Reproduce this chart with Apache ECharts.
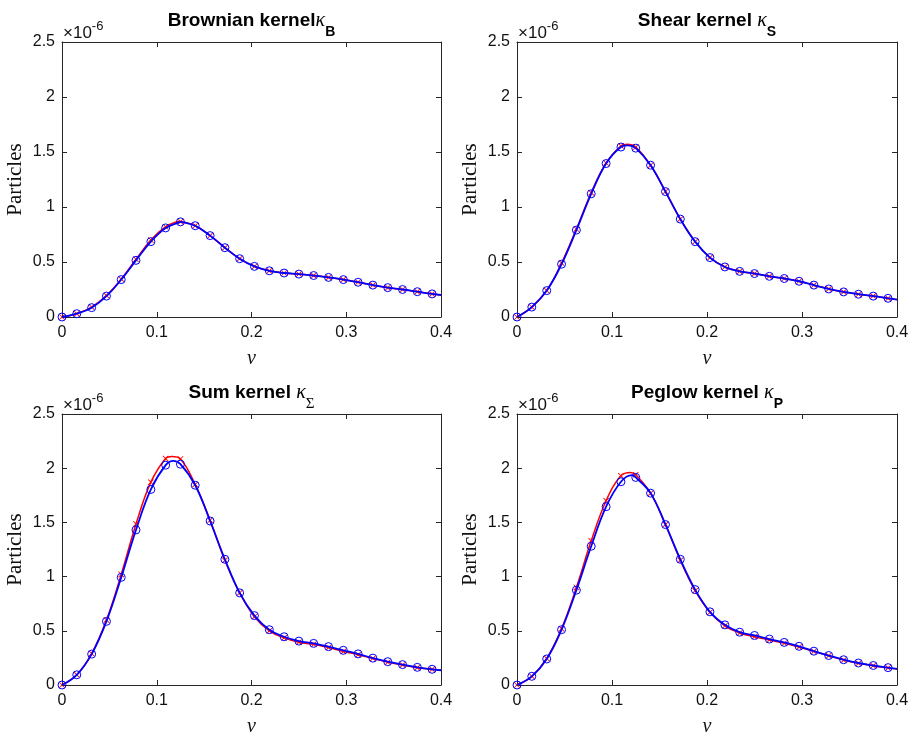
<!DOCTYPE html>
<html>
<head>
<meta charset="utf-8">
<script src="https://cdn.jsdelivr.net/npm/echarts@6/dist/echarts.min.js"></script>
<style>
  html, body { margin: 0; padding: 0; background: #fff; }
  #chart { width: 914px; height: 738px; }
</style>
</head>
<body>
<div id="chart"></div>
<script>
// sample points along v (last one only carries the line to the edge)
var vPts = [0, 0.0156, 0.0313, 0.0469, 0.0625, 0.0781, 0.0938, 0.1094, 0.125, 0.1406,
  0.1563, 0.1719, 0.1875, 0.2031, 0.2188, 0.2344, 0.25, 0.2656, 0.2813, 0.2969,
  0.3125, 0.3281, 0.3438, 0.3594, 0.375, 0.3906, 0.4];

// values in units of 1e-6
var brownianRed  = [0, 0.03, 0.09, 0.195, 0.345, 0.525, 0.70, 0.82, 0.867, 0.83,
  0.74, 0.63, 0.53, 0.46, 0.42, 0.40, 0.39, 0.377, 0.36, 0.34,
  0.316, 0.29, 0.267, 0.25, 0.23, 0.21, 0.20];
var brownianBlue = [0, 0.03, 0.085, 0.19, 0.34, 0.515, 0.685, 0.81, 0.865, 0.83,
  0.74, 0.63, 0.53, 0.46, 0.42, 0.40, 0.39, 0.377, 0.36, 0.34,
  0.316, 0.29, 0.267, 0.25, 0.23, 0.21, 0.20];

var shearRed  = [0, 0.09, 0.24, 0.49, 0.80, 1.13, 1.40, 1.555, 1.545, 1.38,
  1.14, 0.89, 0.685, 0.54, 0.455, 0.415, 0.395, 0.37, 0.35, 0.325,
  0.29, 0.255, 0.228, 0.207, 0.19, 0.17, 0.158];
var shearBlue = [0, 0.09, 0.24, 0.48, 0.79, 1.12, 1.395, 1.545, 1.535, 1.38,
  1.14, 0.89, 0.685, 0.54, 0.455, 0.415, 0.395, 0.37, 0.35, 0.325,
  0.29, 0.255, 0.228, 0.207, 0.19, 0.17, 0.158];

var sumRed  = [0, 0.094, 0.29, 0.60, 1.02, 1.486, 1.871, 2.089, 2.085, 1.85,
  1.52, 1.15, 0.85, 0.63, 0.50, 0.435, 0.395, 0.375, 0.345, 0.31,
  0.28, 0.245, 0.21, 0.185, 0.16, 0.145, 0.136];
var sumBlue = [0, 0.094, 0.285, 0.587, 0.993, 1.431, 1.804, 2.028, 2.037, 1.843,
  1.513, 1.16, 0.85, 0.64, 0.51, 0.445, 0.405, 0.384, 0.354, 0.32,
  0.287, 0.248, 0.215, 0.188, 0.163, 0.145, 0.136];

var peglowRed  = [0, 0.08, 0.245, 0.52, 0.90, 1.33, 1.70, 1.93, 1.94, 1.77,
  1.48, 1.15, 0.87, 0.67, 0.545, 0.48, 0.445, 0.415, 0.385, 0.35,
  0.31, 0.27, 0.23, 0.20, 0.178, 0.158, 0.148];
var peglowBlue = [0, 0.08, 0.24, 0.51, 0.875, 1.28, 1.645, 1.875, 1.915, 1.77,
  1.48, 1.16, 0.88, 0.675, 0.555, 0.487, 0.457, 0.424, 0.393, 0.357,
  0.312, 0.272, 0.233, 0.203, 0.18, 0.16, 0.148];

// curve maxima (Brownian, Shear, Sum, Peglow)
var peakVRed   = [0.1245, 0.116, 0.116, 0.1195];
var peakRed    = [0.869, 1.57, 2.107, 1.961];
var peakVBlue  = [0.1255, 0.117, 0.1175, 0.121];
var peakBlue   = [0.867, 1.56, 2.067, 1.937];

var xTicks = [0, 0.1, 0.2, 0.3, 0.4];
var yTicks = [0, 0.5, 1, 1.5, 2, 2.5];

var panels = [
  { title: '{t|Brownian kernel}{k|κ}{s|B}', red: brownianRed, blue: brownianBlue },
  { title: '{t|Shear kernel }{k|κ}{s|S}', red: shearRed, blue: shearBlue },
  { title: '{t|Sum kernel }{k|κ}{g|Σ}', red: sumRed, blue: sumBlue },
  { title: '{t|Peglow kernel }{k|κ}{s|P}', red: peglowRed, blue: peglowBlue }
];

var boxes = [
  { left: 62, top: 42, width: 379, height: 275 },
  { left: 517, top: 42, width: 380, height: 275 },
  { left: 62, top: 414, width: 379, height: 275 },
  { left: 517, top: 414, width: 380, height: 275 }
];

var SANS = '"Liberation Sans", Arial, Helvetica, sans-serif';
var SERIF = '"Liberation Serif", "DejaVu Serif", serif';
var AX = '#262626';

var crossPath = 'path://M0,1L1,0L5,4L9,0L10,1L6,5L10,9L9,10L5,6L1,10L0,9L4,5Z';

function markerPts(ys) {
  var out = [];
  for (var i = 0; i < ys.length - 1; i++) out.push([vPts[i], ys[i]]);
  return out;
}
function curvePts(ys, pv, py) {
  var out = ys.map(function (y, i) { return [vPts[i], y]; });
  out.push([pv, py]);
  out.sort(function (a, b) { return a[0] - b[0]; });
  return out;
}

var grids = [], xAxes = [], yAxes = [], series = [], graphics = [];

boxes.forEach(function (b, i) {
  grids.push({ left: b.left, top: b.top, width: b.width, height: b.height });

  var common = {
    gridIndex: i, min: 0,
    axisLine: { show: true, onZero: false, lineStyle: { color: AX, width: 1 } },
    axisTick: { show: true, inside: true, length: 5, lineStyle: { color: AX } },
    splitLine: { show: false }
  };
  xAxes.push(Object.assign({}, common, {
    type: 'value', position: 'bottom', max: 0.4, interval: 0.1,
    axisLabel: { fontSize: 16, fontFamily: SANS, color: '#111', margin: 8,
      formatter: function (v) { return xTicks.indexOf(+v.toFixed(1)) >= 0 ? String(+v.toFixed(1)) : ''; } },
    name: 'v', nameLocation: 'middle', nameGap: 32,
    nameTextStyle: { fontFamily: SERIF, fontStyle: 'italic', fontSize: 20, color: '#111' }
  }));
  xAxes.push(Object.assign({}, common, {
    type: 'value', position: 'top', max: 0.4, interval: 0.1,
    axisLabel: { show: false }
  }));
  yAxes.push(Object.assign({}, common, {
    type: 'value', position: 'left', max: 2.5, interval: 0.5,
    axisLabel: { fontSize: 16, fontFamily: SANS, color: '#111', margin: 7,
      formatter: function (v) { return String(+v.toFixed(1)); } },
    name: 'Particles', nameLocation: 'middle', nameGap: 36, nameRotate: 90,
    nameTextStyle: { fontFamily: SERIF, fontSize: 21, color: '#111' }
  }));
  yAxes.push(Object.assign({}, common, {
    type: 'value', position: 'right', max: 2.5, interval: 0.5,
    axisLabel: { show: false }
  }));

  var p = panels[i];
  series.push({
    type: 'line', xAxisIndex: 2 * i, yAxisIndex: 2 * i, smooth: 0.4,
    data: curvePts(p.red, peakVRed[i], peakRed[i]), symbol: 'none',
    lineStyle: { color: '#ff0000', width: 1.5 }, z: 2
  });
  series.push({
    type: 'scatter', xAxisIndex: 2 * i, yAxisIndex: 2 * i,
    data: markerPts(p.red), symbol: crossPath, symbolSize: 6,
    itemStyle: { color: '#ff0000', opacity: 1 }, z: 3
  });
  series.push({
    type: 'line', xAxisIndex: 2 * i, yAxisIndex: 2 * i, smooth: 0.4,
    data: curvePts(p.blue, peakVBlue[i], peakBlue[i]), symbol: 'none',
    lineStyle: { color: '#0000ff', width: 1.8 }, z: 4
  });
  series.push({
    type: 'scatter', xAxisIndex: 2 * i, yAxisIndex: 2 * i,
    data: markerPts(p.blue), symbol: 'circle', symbolSize: 8,
    itemStyle: { color: 'rgba(0,0,0,0)', borderColor: '#0000ff', borderWidth: 1, opacity: 1 }, z: 5
  });

  graphics.push({
    type: 'text', x: b.left + b.width / 2, y: b.top - 31,
    style: {
      text: p.title, align: 'center', verticalAlign: 'top', fill: '#000',
      rich: {
        t: { fontFamily: SANS, fontWeight: 'bold', fontSize: 19, lineHeight: 22, verticalAlign: 'top', fill: '#000' },
        k: { fontFamily: SERIF, fontStyle: 'italic', fontSize: 20, lineHeight: 22, verticalAlign: 'top', fill: '#000' },
        s: { fontFamily: SANS, fontWeight: 'bold', fontSize: 14, lineHeight: 14, padding: [14, 0, 0, 0], verticalAlign: 'top', fill: '#000' },
        g: { fontFamily: SERIF, fontSize: 15, lineHeight: 14, padding: [14, 0, 0, 0], verticalAlign: 'top', fill: '#000' }
      }
    }
  });
  graphics.push({
    type: 'text', x: b.left + 1, y: b.top - 22,
    style: {
      text: '{a|×10}{b|-6}', align: 'left', verticalAlign: 'top', fill: '#111',
      rich: {
        a: { fontFamily: SANS, fontSize: 17, lineHeight: 18, padding: [5, 0, 0, 0], verticalAlign: 'top', fill: '#111' },
        b: { fontFamily: SANS, fontSize: 13, lineHeight: 14, verticalAlign: 'top', fill: '#111' }
      }
    }
  });
});

var chart = echarts.init(document.getElementById('chart'), null, { renderer: 'canvas' });
chart.setOption({
  animation: false,
  backgroundColor: '#fff',
  grid: grids,
  xAxis: xAxes,
  yAxis: yAxes,
  series: series,
  graphic: graphics
});
</script>
</body>
</html>
